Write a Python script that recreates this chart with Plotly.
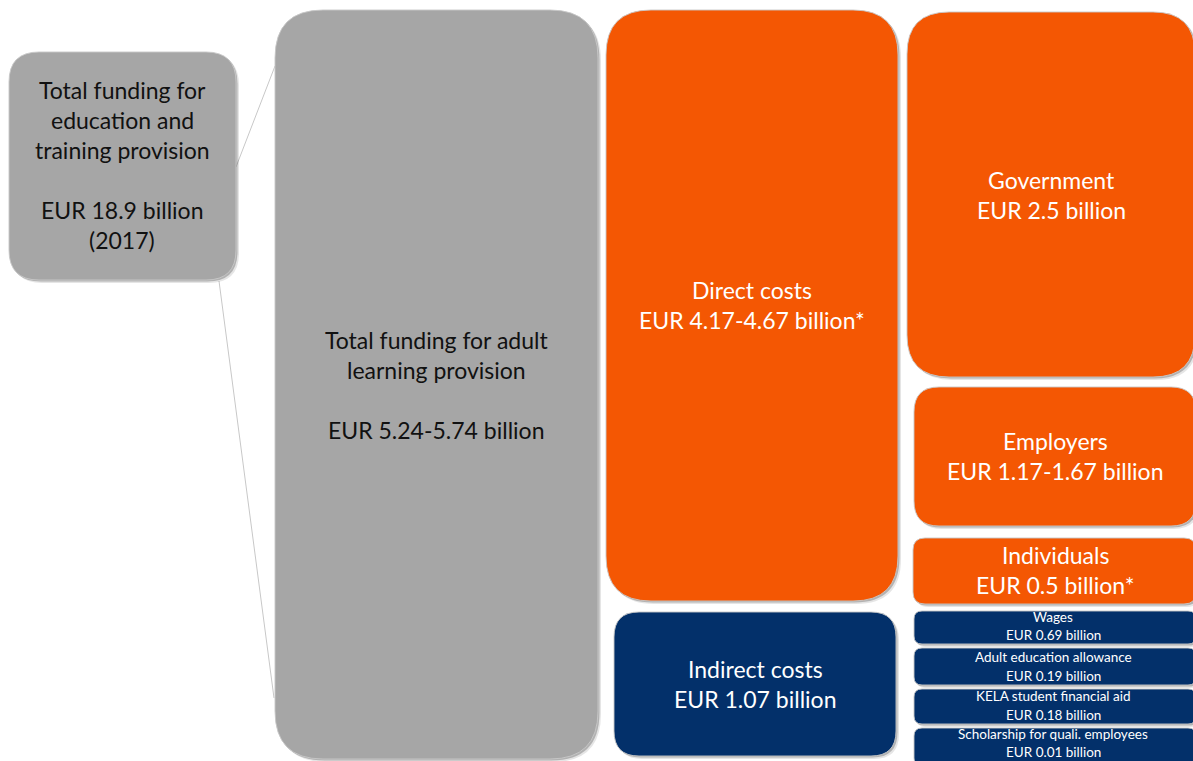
import plotly.graph_objects as go

# ---- data -----------------------------------------------------------------
names = [
    "Total funding for<br>education and<br>training provision",
    "Total funding for adult<br>learning provision",
    "Direct costs",
    "Government",
    "Employers",
    "Individuals",
    "Indirect costs",
    "Wages",
    "Adult education allowance",
    "KELA student financial aid",
    "Scholarship for quali. employees",
]
value_low = [18.9, 5.24, 4.17, 2.5, 1.17, 0.5, 1.07, 0.69, 0.19, 0.18, 0.01]
value_high = [None, 5.74, 4.67, None, 1.67, None, None, None, None, None, None]
notes = ["<br>(2017)", "", "*", "", "", "*", "", "", "", "", ""]
gap_before_amount = [True, True, False, False, False, False, False, False, False, False, False]
groups = ["total", "total", "direct", "direct", "direct", "direct",
          "indirect", "indirect", "indirect", "indirect", "indirect"]

# ---- styling / layout -------------------------------------------------------
W, H = 1193, 761
FONT = "Lato, Calibri, Carlito, sans-serif"
fill = {"total": "#A6A6A6", "direct": "#F45703", "indirect": "#03306A"}
ink = {"total": "#111111", "direct": "#FFFFFF", "indirect": "#FFFFFF"}

# box geometry in page pixels: x0, y0, x1, y1, corner radius, font size, line step
boxes = [
    (9, 52, 236, 280, 30, 23, 30),
    (275, 10, 598, 759, 48, 23, 30),
    (606, 10, 898, 601, 45, 23, 30),
    (907, 12, 1195, 377, 42, 23, 30),
    (914, 387, 1196, 526, 25, 23, 30),
    (913, 538, 1196, 604, 12, 23, 30),
    (614, 612, 896, 756, 25, 23, 30),
    (914, 611, 1196, 644, 8, 13.5, 18),
    (914, 648, 1196, 685, 8, 13.5, 19),
    (914, 689, 1196, 724, 8, 13.5, 19),
    (914, 728, 1196, 766, 8, 13.5, 18),
]
# text centres (x, y of first line middle)
text_pos = [
    (122, 90), (436, 340), (752, 290), (1051, 180), (1055, 441), (1055, 555),
    (755, 669), (1053, 617), (1053, 657), (1053, 696), (1053, 734),
]


def fmt(v):
    return f"{v:g}"


def amount_text(i):
    s = "EUR " + fmt(value_low[i])
    if value_high[i] is not None:
        s += "-" + fmt(value_high[i])
    s += " billion"
    note = notes[i]
    if note.startswith("<br>"):
        return [s] + note[4:].split("<br>")
    return [s + note]


def rounded(x0, y0, x1, y1, r):
    return (f"M {x0 + r},{y0} L {x1 - r},{y0} Q {x1},{y0} {x1},{y0 + r} "
            f"L {x1},{y1 - r} Q {x1},{y1} {x1 - r},{y1} "
            f"L {x0 + r},{y1} Q {x0},{y1} {x0},{y1 - r} "
            f"L {x0},{y0 + r} Q {x0},{y0} {x0 + r},{y0} Z")


fig = go.Figure()
fig.add_trace(go.Scatter(x=[0, W], y=[0, H], mode="markers",
                         marker=dict(opacity=0), hoverinfo="skip", showlegend=False))

shapes = []
# connector lines from the overall total to the adult-learning total
shapes.append(dict(type="line", x0=236, y0=167, x1=275, y1=66,
                   line=dict(color="#C8C8C8", width=1), layer="below"))
shapes.append(dict(type="line", x0=219, y0=281, x1=274, y1=698,
                   line=dict(color="#C8C8C8", width=1), layer="below"))

for i, (x0, y0, x1, y1, r, fs, step) in enumerate(boxes):
    # soft drop shadow
    shapes.append(dict(type="path", path=rounded(x0 + 3, y0 + 3, x1 + 3, y1 + 3, r),
                       fillcolor="rgba(0,0,0,0.10)", line=dict(width=0), layer="above"))
    shapes.append(dict(type="path", path=rounded(x0 + 1.5, y0 + 1.5, x1 + 1.5, y1 + 1.5, r),
                       fillcolor="rgba(0,0,0,0.22)", line=dict(width=0), layer="above"))
    shapes.append(dict(type="path", path=rounded(x0, y0, x1, y1, r),
                       fillcolor=fill[groups[i]],
                       line=dict(color="rgba(200,200,200,0.9)", width=1), layer="above"))

annotations = []
for i in range(len(names)):
    lines = names[i].split("<br>")
    if gap_before_amount[i]:
        lines.append("")
    lines += amount_text(i)
    fs, step = boxes[i][5], boxes[i][6]
    cx, cy = text_pos[i]
    for k, line in enumerate(lines):
        if not line:
            continue
        annotations.append(dict(
            x=cx, y=cy + k * step, text=line, showarrow=False,
            xanchor="center", yanchor="middle",
            font=dict(family=FONT, size=fs, color=ink[groups[i]]),
        ))

fig.update_layout(
    width=W, height=H,
    margin=dict(l=0, r=0, t=0, b=0),
    paper_bgcolor="white", plot_bgcolor="white",
    xaxis=dict(range=[0, W], visible=False, fixedrange=True),
    yaxis=dict(range=[H, 0], visible=False, fixedrange=True),
    shapes=shapes, annotations=annotations,
    showlegend=False,
)

fig.write_html("out.html", config={"displayModeBar": False})
